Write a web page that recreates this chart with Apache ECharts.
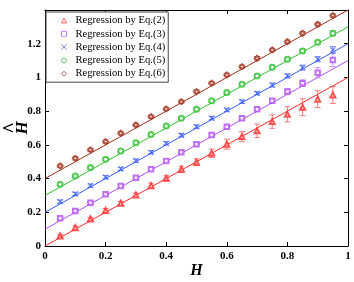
<!DOCTYPE html>
<html><head><meta charset="utf-8">
<script src="https://cdn.jsdelivr.net/npm/echarts@6/dist/echarts.min.js"></script>
<style>html,body{margin:0;padding:0;background:#fff}#c{width:354px;height:282px}</style>
</head><body><div id="c"></div>
<script>
const xs = [0.05,0.1,0.15,0.2,0.25,0.3,0.35,0.4,0.45,0.5,0.55,0.6,0.65,0.7,0.75,0.8,0.85,0.9,0.95];
const names = ['Regression by Eq.(2)','Regression by Eq.(3)','Regression by Eq.(4)','Regression by Eq.(5)','Regression by Eq.(6)'];
const colors = ['#ff2a2a','#b050f0','#3a5cff','#2fbf2f','#a0301c'];
const errColors = ['rgba(255,80,80,0.75)','rgba(190,100,255,0.7)','rgba(70,100,255,0.75)','rgba(60,200,60,0.7)','rgba(170,60,40,0.75)'];
const eq2 = [0.059,0.109,0.160,0.210,0.253,0.303,0.358,0.402,0.455,0.497,0.550,0.604,0.649,0.683,0.738,0.781,0.823,0.871,0.896];
const eq3 = [0.164,0.208,0.257,0.307,0.356,0.405,0.455,0.504,0.556,0.604,0.659,0.708,0.758,0.811,0.862,0.916,0.966,1.028,1.104];
const eq4 = [0.263,0.309,0.358,0.408,0.457,0.506,0.556,0.609,0.657,0.708,0.758,0.807,0.856,0.906,0.955,1.009,1.058,1.108,1.163];
const eq5 = [0.366,0.415,0.465,0.515,0.564,0.613,0.661,0.712,0.758,0.811,0.861,0.910,0.960,1.009,1.061,1.108,1.157,1.209,1.262];
const eq6 = [0.475,0.520,0.570,0.619,0.669,0.718,0.767,0.813,0.856,0.916,0.966,1.015,1.064,1.114,1.163,1.212,1.262,1.315,1.367];
const err2 = [0.01,0.01,0.01,0.012,0.012,0.012,0.015,0.015,0.018,0.02,0.025,0.03,0.03,0.04,0.04,0.045,0.05,0.05,0.05];
const err3 = [0.008,0.008,0.008,0.008,0.008,0.008,0.008,0.008,0.008,0.01,0.01,0.01,0.01,0.012,0.012,0.015,0.02,0.03,0.04];
const err4 = [0.01,0.01,0.01,0.01,0.01,0.01,0.01,0.01,0.01,0.01,0.01,0.01,0.01,0.01,0.012,0.012,0.015,0.015,0.02];
const err5 = [0.008,0.008,0.008,0.008,0.008,0.008,0.008,0.008,0.008,0.01,0.01,0.01,0.01,0.01,0.01,0.01,0.012,0.012,0.015];
const err6 = [0.01,0.01,0.01,0.01,0.01,0.01,0.01,0.01,0.01,0.01,0.01,0.01,0.01,0.01,0.01,0.01,0.01,0.01,0.01];
const lineX = [0, 1];
const lineStart = [0.0, 0.1, 0.2, 0.3, 0.4];
const lineEnd = [1.0, 1.1, 1.2, 1.3, 1.4];
const xTicks = ['0','0.2','0.4','0.6','0.8','1'];
const yTicks = ['0','0.2','0.4','0.6','0.8','1','1.2'];

const vals = [eq2,eq3,eq4,eq5,eq6];
const errs = [err2,err3,err4,err5,err6];
const symbols = ['emptyTriangle','emptyRect','path://M0,0L10,10M10,0L0,10','emptyCircle','emptyDiamond'];
const symSizes = [5,4.5,5,5,5];

const font = 'Liberation Serif';
const series = [];
for (let i=0;i<5;i++){
  series.push({type:'line', data: lineX.map((x,k)=>[x, k===0?lineStart[i]:lineEnd[i]]), symbol:'none', silent:true,
    lineStyle:{color:colors[i], width:1}, z:2});
}
for (let i=0;i<5;i++){
  const d = xs.map((x,k)=>[x, vals[i][k]-errs[i][k], vals[i][k]+errs[i][k]]);
  series.push({type:'custom', silent:true, z:3, data:d, encode:{x:0,y:[1,2]},
    renderItem:(params, api)=>{
      const x = api.value(0);
      const lo = api.coord([x, api.value(1)]);
      const hi = api.coord([x, api.value(2)]);
      const w = 3;
      const st = {stroke: errColors[i], lineWidth:1, fill:null};
      return {type:'group', children:[
        {type:'line', shape:{x1:lo[0],y1:lo[1],x2:hi[0],y2:hi[1]}, style:st},
        {type:'line', shape:{x1:lo[0]-w,y1:lo[1],x2:lo[0]+w,y2:lo[1]}, style:st},
        {type:'line', shape:{x1:hi[0]-w,y1:hi[1],x2:hi[0]+w,y2:hi[1]}, style:st}
      ]};
    }});
}
for (let i=0;i<5;i++){
  const isPath = symbols[i].startsWith('path');
  series.push({type:'scatter', name:names[i], data: xs.map((x,k)=>[x, vals[i][k]]),
    symbol:symbols[i], symbolSize:symSizes[i], z:4,
    itemStyle: isPath ? {color:'none', borderColor:colors[i], borderWidth:1.1} : {color:colors[i], borderWidth:0.9}});
}

const legendData = names.map((n,i)=>({name:n, icon:symbols[i].replace('empty','').replace(/^(Triangle|Rect|Circle|Diamond)$/, s=>s.toLowerCase()),
  itemStyle:{color: symbols[i].startsWith('path') ? 'none' : '#fff', borderColor:colors[i], borderWidth:0.9}}));

const chart = echarts.init(document.getElementById('c'), null, {renderer:'canvas'});
const axisCommon = {
  axisLine:{show:true, onZero:false, lineStyle:{color:'#000', width:1}},
  axisTick:{show:true, inside:true, length:4, lineStyle:{color:'#000'}},
  splitLine:{show:false}
};
chart.setOption({
  animation:false,
  backgroundColor:'#fff',
  grid:{left:45, right:6, top:10, bottom:36, containLabel:false, outerBoundsMode:'none'},
  legend:{
    data:legendData, orient:'vertical', left:46, top:12, itemGap:2.3, itemWidth:5, itemHeight:5,
    padding:[3,3,3,13], borderColor:'#444', borderWidth:1, backgroundColor:'#fff',
    textStyle:{fontFamily:font, fontSize:10.6, lineHeight:10, color:'#000', padding:[0,0,0,4]}
  },
  xAxis:[
    Object.assign({type:'value', min:0, max:1, interval:0.2, position:'bottom',
      name:'H', nameLocation:'middle', nameGap:17, nameMoveOverlap:false,
      nameTextStyle:{fontFamily:font, fontStyle:'italic', fontWeight:'bold', fontSize:16, color:'#000'},
      axisLabel:{fontFamily:font, fontWeight:'bold', fontSize:11, color:'#000', margin:5,
        formatter:(v)=>{const i=Math.round(v/0.2); return xTicks[i]!==undefined?xTicks[i]:'';}}}, axisCommon),
    Object.assign({type:'value', min:0, max:1, interval:0.2, position:'top', axisLabel:{show:false}}, axisCommon)
  ],
  yAxis:[
    Object.assign({type:'value', min:0, max:1.4, interval:0.2, position:'left',
      name:'{hat|^}\n{h|H}', nameLocation:'middle', nameGap:15, nameRotate:90, nameMoveOverlap:false,
      nameTextStyle:{color:'#000', rich:{
        hat:{fontFamily:font, fontWeight:'bold', fontSize:20, lineHeight:8, color:'#000', align:'center'},
        h:{fontFamily:font, fontStyle:'italic', fontWeight:'bold', fontSize:17, lineHeight:14, color:'#000', align:'center'}}},
      axisLabel:{fontFamily:font, fontWeight:'bold', fontSize:11, color:'#000', margin:4,
        formatter:(v)=>{const i=Math.round(v/0.2); return yTicks[i]!==undefined?yTicks[i]:'';}}}, axisCommon),
    Object.assign({type:'value', min:0, max:1.4, interval:0.2, position:'right', axisLabel:{show:false}}, axisCommon)
  ],
  series: series
});
</script></body></html>
